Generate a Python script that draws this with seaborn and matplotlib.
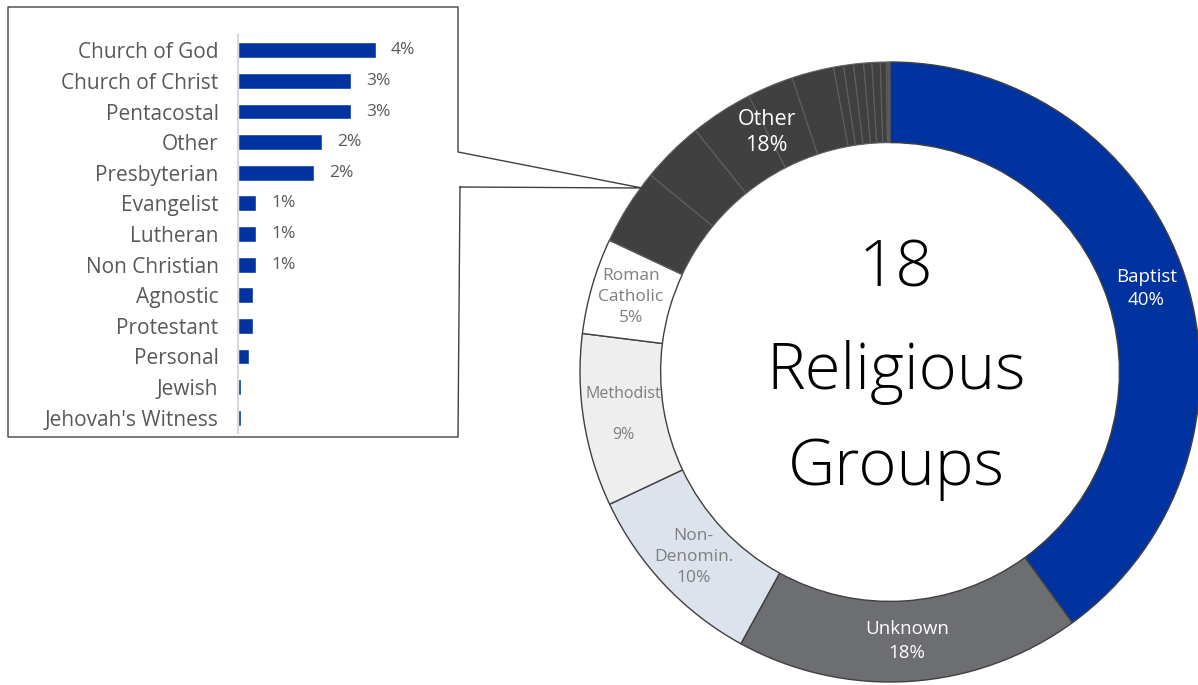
import matplotlib.pyplot as plt
import numpy as np
import seaborn as sns
from matplotlib.lines import Line2D

# main religious groups (share of respondents, %)
main_groups = ["Baptist", "Unknown", "Non-\nDenomin.", "Methodist\n", "Roman\nCatholic"]
main_values = [40, 18, 10, 9, 5]
main_colors = ["#0033A0", "#6D6E71", "#DCE3EC", "#EEEEEE", "#FFFFFF"]
main_text_colors = ["white", "white", "#7F7F7F", "#7F7F7F", "#7F7F7F"]

# the "Other" 18% broken down
other_groups = ["Church of God", "Church of Christ", "Pentacostal", "Other", "Presbyterian",
                "Evangelist", "Lutheran", "Non Christian", "Agnostic", "Protestant",
                "Personal", "Jewish", "Jehovah's Witness"]
other_values = [3.97, 3.26, 3.26, 2.42, 2.19, 0.52, 0.52, 0.52, 0.43, 0.43, 0.32, 0.09, 0.09]

BLUE = "#0033A0"
DARK = "#404040"
W, H = 1198, 685

sns.set_style("white")
plt.rcParams["font.family"] = ["Open Sans", "DejaVu Sans"]

fig = plt.figure(figsize=(W / 100, H / 100), dpi=100)

# ---- donut ----
cx, cy, r = 890, 372, 310
ax = fig.add_axes([(cx - r) / W, (H - cy - r) / H, 2 * r / W, 2 * r / H])
values = main_values + other_values
colors = main_colors + [DARK] * len(other_values)
wedges, _ = ax.pie(values, colors=colors, startangle=90, counterclock=False,
                   wedgeprops=dict(width=0.26, edgecolor=DARK, linewidth=1.0))
for w in wedges[len(main_values):]:
    w.set_edgecolor("#5f5f5f")
    w.set_linewidth(0.8)
ax.set_xlim(-1.0, 1.0)
ax.set_ylim(-1.0, 1.0)
ax.set_aspect("equal")
ax.axis("off")


def polar_xy(theta, rad=0.87):
    a = np.deg2rad(theta)
    return rad * np.cos(a), rad * np.sin(a)


sizes = [13.5, 13.5, 12.5, 11.5, 12.5]
for w, name, val, tc, fs in zip(wedges, main_groups, main_values, main_text_colors, sizes):
    x, y = polar_xy((w.theta1 + w.theta2) / 2)
    ax.text(x, y, f"{name}\n{val}%", ha="center", va="center", color=tc,
            fontsize=fs, linespacing=1.4, clip_on=False)

sub = wedges[len(main_values):]
t_lo = min(w.theta1 for w in sub)
t_hi = max(w.theta2 for w in sub)
x, y = polar_xy(t_hi - 0.58 * (t_hi - t_lo))
ax.text(x, y, f"Other\n{round(sum(other_values))}%", ha="center",
        va="center", color="white", fontsize=15.5, linespacing=1.3)

for label, yy in zip(["18", "Religious", "Groups"], [0.33, 0.0, -0.31]):
    ax.text(0.02, yy, label, ha="center", va="center", fontsize=47, color="black",
            fontweight="light")

# ---- bar breakdown ----
n = len(other_groups)
top_y, bot_y = 35, 433
ax2 = fig.add_axes([238 / W, (H - bot_y) / H, 220 / W, (bot_y - top_y) / H])
sns.barplot(x=other_values, y=other_groups, orient="h", color=BLUE, width=0.52,
            saturation=1, ax=ax2)
ax2.set_xlim(0, 220 / 34.7)
ax2.set_ylim(n - 0.5, -0.5)
ax2.set_xlabel("")
ax2.set_ylabel("")
ax2.set_xticks([])
for s in ["top", "right", "bottom"]:
    ax2.spines[s].set_visible(False)
ax2.spines["left"].set_color("#D9D9D9")
ax2.spines["left"].set_linewidth(1.5)
ax2.tick_params(axis="y", length=0, pad=14, labelsize=15, labelcolor="#595959")
ax2.patch.set_alpha(0)
labels = [f"{round(v)}%" if round(v) >= 1 else "" for v in other_values]
ax2.bar_label(ax2.containers[0], labels=labels, padding=11, fontsize=12.5, color="#595959")

# callout box around the breakdown
pts = [(460, 187), (642, 188), (458, 152), (458, 7), (8, 7), (8, 437), (458, 437), (460, 187)]
fig.add_artist(Line2D([p[0] / W for p in pts], [1 - p[1] / H for p in pts],
                      transform=fig.transFigure, color="#404040", linewidth=1.0))

fig.savefig("out.png", dpi=100)
